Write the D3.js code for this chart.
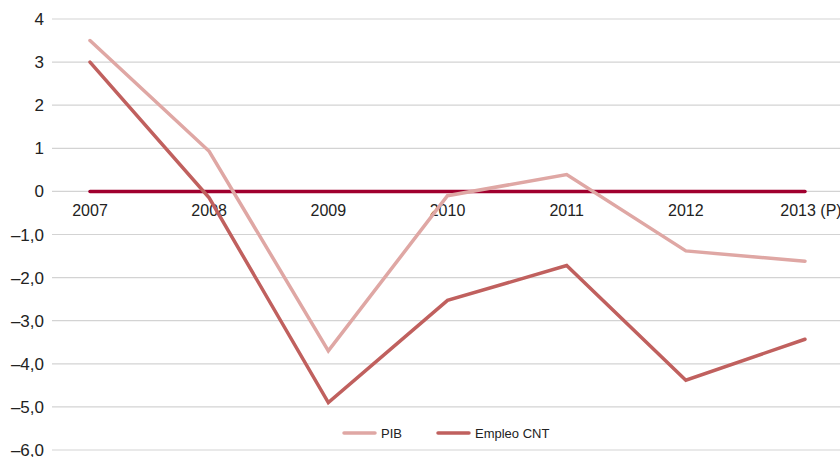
<!DOCTYPE html>
<html>
<head>
    <meta charset="utf-8">
    <style>
        body { margin: 0; background: #fff; }
        svg { display: block; font-family: 'Liberation Sans', Arial, sans-serif; }
    </style>
</head>
<body>
<svg width="840" height="457"></svg>
<script src="https://d3js.org/d3.v7.min.js"></script>
<script>
    let years = ["2007", "2008", "2009", "2010", "2011", "2012", "2013 (P)"]
    let pib = [3.5, 0.93, -3.7, -0.1, 0.39, -1.38, -1.62]
    let empleo = [3.0, -0.15, -4.9, -2.53, -1.72, -4.38, -3.43]
    let yTicks = [4, 3, 2, 1, 0, -1, -2, -3, -4, -5, -6]
    let yTickLabels = ["4", "3", "2", "1", "0", "\u20131,0", "\u20132,0", "\u20133,0", "\u20134,0", "\u20135,0", "\u20136,0"]
    let seriesNames = ["PIB", "Empleo CNT"]

    let svg = d3.select("svg")

    let x = d3.scalePoint()
        .domain(years)
        .range([90, 805])

    let y = d3.scaleLinear()
        .domain([-6, 4])
        .range([450, 19])

    // grid
    svg.selectAll(".grid")
        .data(yTicks)
        .join("line")
        .attr("x1", 52)
        .attr("x2", 840)
        .attr("y1", d => y(d))
        .attr("y2", d => y(d))
        .style("stroke", "#d3d3d3")
        .style("stroke-width", 1.2)

    svg.selectAll(".ylab")
        .data(yTicks)
        .join("text")
        .attr("x", 44)
        .attr("y", d => y(d) + 6)
        .attr("text-anchor", "end")
        .style("font-size", "17px")
        .style("fill", "#222")
        .text((d, i) => yTickLabels[i])

    svg.selectAll(".xlab")
        .data(years)
        .join("text")
        .attr("x", (d, i) => i == years.length - 1 ? x(d) + 6 : x(d))
        .attr("y", y(0) + 25)
        .attr("text-anchor", "middle")
        .style("font-size", "16px")
        .style("fill", "#222")
        .text(d => d)

    let line = d3.line()
        .x((d, i) => x(years[i]))
        .y(d => y(d))

    // zero line
    svg.append("line")
        .attr("x1", x(years[0]))
        .attr("x2", x(years[years.length - 1]))
        .attr("y1", y(0))
        .attr("y2", y(0))
        .style("stroke", "#a0002e")
        .style("stroke-width", 3.5)
        .style("stroke-linecap", "round")

    let colors = ["#dfa7a4", "#c0605e"]

    svg.append("path")
        .attr("d", line(pib))
        .style("fill", "none")
        .style("stroke", colors[0])
        .style("stroke-width", 3.5)
        .style("stroke-linecap", "round")

    svg.append("path")
        .attr("d", line(empleo))
        .style("fill", "none")
        .style("stroke", colors[1])
        .style("stroke-width", 3.5)
        .style("stroke-linecap", "round")

    // legend
    let legX = [344, 438]
    seriesNames.forEach((name, i) => {
        svg.append("line")
            .attr("x1", legX[i])
            .attr("x2", legX[i] + 31)
            .attr("y1", 433)
            .attr("y2", 433)
            .style("stroke", colors[i])
            .style("stroke-width", 3.5)
            .style("stroke-linecap", "round")
        svg.append("text")
            .attr("x", legX[i] + 37)
            .attr("y", 438)
            .style("font-size", "13px")
            .style("fill", "#222")
            .text(name)
    })
</script>
</body>
</html>
